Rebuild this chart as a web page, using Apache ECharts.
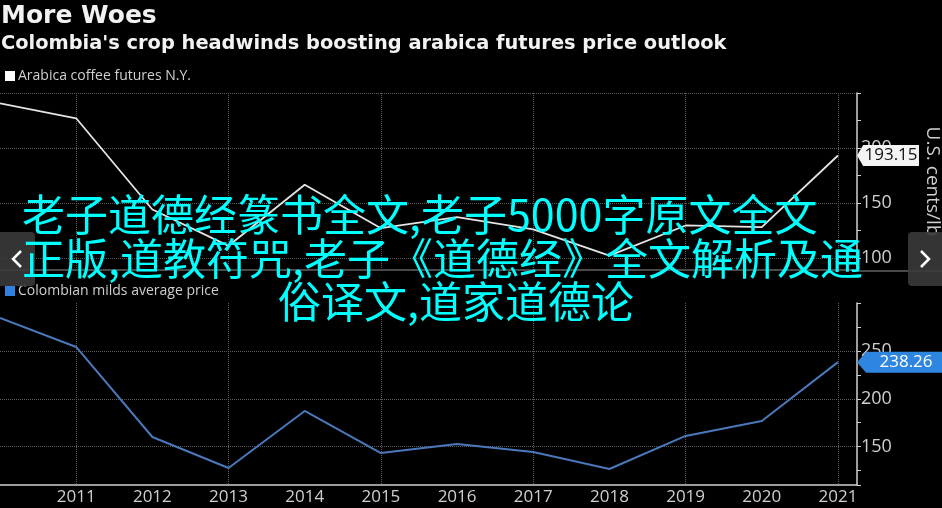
<!DOCTYPE html>
<html>
<head>
<meta charset="utf-8">
<script src="https://cdn.jsdelivr.net/npm/echarts@6/dist/echarts.min.js"></script>
<style>
html,body{margin:0;padding:0;background:#000;}
#chart{width:942px;height:508px;}
</style>
</head>
<body>
<div id="chart"></div>
<script>
// ---- data ----
const years = [2010, 2011, 2012, 2013, 2014, 2015, 2016, 2017, 2018, 2019, 2020, 2021];
const arabicaFutures = [240.5, 227, 144, 111, 166.5, 127, 137, 126, 102, 129.5, 128, 193.15];
const colombianMilds = [284.3, 254.1, 160.1, 127.8, 187.3, 143.4, 152.8, 144.5, 126.7, 161.2, 176.8, 238.26];
const xTickLabels = [2011, 2012, 2013, 2014, 2015, 2016, 2017, 2018, 2019, 2020, 2021];
const topAxisLabels = [100, 150, 200];
const bottomAxisLabels = [150, 200, 250];
const titleText = 'More Woes';
const subtitleText = "Colombia's crop headwinds boosting arabica futures price outlook";
const seriesNames = ['Arabica coffee futures N.Y.', 'Colombian milds average price'];
const unitName = 'U.S. cents/lb';
const overlayLines = ['老子道德经篆书全文,老子5000字原文全文', '正版,道教符咒,老子《道德经》全文解析及通', '俗译文,道家道德论'];

const FONT = '"Open Sans", "DejaVu Sans", sans-serif';
const xMin = 2010, xMax = 2021.25;
const gridColor = '#5a5a5a';

function pairs(vals) { return years.map((y, i) => [y, vals[i]]); }

function xAxisCfg(gridIndex, showLabels) {
  return {
    type: 'value', gridIndex, min: xMin, max: xMax, interval: 1,
    axisLine: { show: true, lineStyle: { color: showLabels ? '#cfcfcf' : '#4a4a4a', width: showLabels ? 1.5 : 2 } },
    axisTick: { show: false },
    axisLabel: {
      show: showLabels, color: '#cfcfcf', fontSize: 17, fontFamily: FONT, margin: 4,
      formatter: v => xTickLabels.indexOf(v) >= 0 ? String(v) : ''
    },
    splitLine: { show: true, lineStyle: { color: ['transparent', gridColor], type: 'dotted', width: 1 } }
  };
}

function yAxisCfg(gridIndex, min, max, split, labels, extra) {
  return Object.assign({
    type: 'value', gridIndex, position: 'right', min, max, splitNumber: split,
    axisLine: { show: true, lineStyle: { color: '#d0d0d0', width: 1.5 } },
    axisTick: { show: true, length: 4, lineStyle: { color: '#d0d0d0' } },
    minorTick: { show: true, splitNumber: 2, length: 4, lineStyle: { color: '#d0d0d0' } },
    axisLabel: {
      color: '#cfcfcf', fontSize: 18, fontFamily: FONT, margin: 4,
      formatter: v => labels.indexOf(v) >= 0 ? String(v) : ''
    },
    splitLine: { show: true, showMinLine: false, showMaxLine: true, lineStyle: { color: gridColor, type: 'dotted', width: 1 } }
  }, extra || {});
}

function tag(val, fill, textColor, w) {
  return {
    silent: true,
    symbol: 'path://M0,10 L6,0 L60,0 L60,20 L6,20 Z',
    symbolKeepAspect: false,
    data: [{
      coord: [xMax, val], value: val,
      symbolSize: [w, 21], symbolOffset: ['50%', 0],
      itemStyle: { color: fill },
      label: { show: true, position: 'inside', offset: [3, 0], color: textColor, fontSize: 17, fontFamily: FONT,
        formatter: p => Number(p.value).toFixed(2) }
    }]
  };
}

const chart = echarts.init(document.getElementById('chart'), null, { renderer: 'canvas' });
chart.setOption({
  backgroundColor: '#000',
  animation: false,
  title: [
    { text: titleText, left: 1, top: 4, padding: 0, textStyle: { color: '#f2f2f2', fontSize: 25, fontWeight: 'bold', fontFamily: '"DejaVu Sans", sans-serif' } },
    { text: subtitleText, left: 1, top: 34, padding: 0, textStyle: { color: '#f2f2f2', fontSize: 19.4, fontWeight: 'bold', fontFamily: '"DejaVu Sans", sans-serif' } }
  ],
  legend: [
    { data: [seriesNames[0]], left: 5, top: 69, padding: 0, icon: 'rect', itemWidth: 10, itemHeight: 10, itemGap: 4,
      textStyle: { color: '#cfcfcf', fontSize: 14, fontFamily: FONT, padding: [0, 0, 0, -2] } },
    { data: [seriesNames[1]], left: 5, top: 284, padding: 0, icon: 'rect', itemWidth: 10, itemHeight: 10, itemGap: 4,
      textStyle: { color: '#cfcfcf', fontSize: 14, fontFamily: FONT, padding: [0, 0, 0, -2] } }
  ],
  grid: [
    { left: 0, right: 85, top: 93, bottom: 238, containLabel: false, outerBoundsMode: 'none' },
    { left: 0, right: 85, top: 303, bottom: 23, containLabel: false, outerBoundsMode: 'none' }
  ],
  xAxis: [xAxisCfg(0, false), xAxisCfg(1, true)],
  yAxis: [
    yAxisCfg(0, 89, 250, 3, topAxisLabels, {
      name: unitName, nameLocation: 'middle', nameRotate: -90, nameGap: 66,
      nameTextStyle: { color: '#cfcfcf', fontSize: 19, fontFamily: FONT }
    }),
    yAxisCfg(1, 110, 300, 4, bottomAxisLabels, {
      splitLine: { show: true, showMinLine: false, showMaxLine: false, lineStyle: { color: gridColor, type: 'dotted', width: 1 } }
    })
  ],
  series: [
    { name: seriesNames[0], type: 'line', xAxisIndex: 0, yAxisIndex: 0, data: pairs(arabicaFutures),
      showSymbol: false, symbol: 'none', color: '#ffffff',
      lineStyle: { color: '#e4e4e4', width: 1.8 },
      markPoint: tag(arabicaFutures[arabicaFutures.length - 1], '#f4f4f4', '#111', 62), z: 3 },
    { name: seriesNames[1], type: 'line', xAxisIndex: 1, yAxisIndex: 1, data: pairs(colombianMilds),
      showSymbol: false, symbol: 'none', color: '#2f80e0',
      lineStyle: { color: '#4a78bb', width: 2 },
      markPoint: tag(colombianMilds[colombianMilds.length - 1], '#2f86e0', '#ffffff', 92), z: 3 }
  ],
  graphic: [
    { type: 'line', shape: { x1: 857, y1: 271, x2: 942, y2: 271 }, style: { stroke: '#4a4a4a', lineWidth: 2 }, z: 1 },
    { type: 'text', x: 22, y: 215, z: 50, style: { text: overlayLines[0], fill: '#00ffff', font: '43px "Noto Sans CJK SC"', textVerticalAlign: 'middle' } },
    { type: 'text', x: 22, y: 259, z: 50, style: { text: overlayLines[1], fill: '#00ffff', font: '43px "Noto Sans CJK SC"', textVerticalAlign: 'middle' } },
    { type: 'text', x: 278, y: 302, z: 50, style: { text: overlayLines[2], fill: '#00ffff', font: '43px "Noto Sans CJK SC"', textVerticalAlign: 'middle' } },
    { type: 'rect', x: 0, y: 232, z: 40, shape: { width: 35, height: 54, r: [0, 4, 4, 0] }, style: { fill: 'rgba(58,58,58,0.9)' } },
    { type: 'polyline', z: 41, shape: { points: [[21, 251], [13, 259], [21, 267]] }, style: { stroke: '#fff', lineWidth: 2.5, fill: null } },
    { type: 'rect', x: 908, y: 232, z: 40, shape: { width: 40, height: 54, r: [4, 0, 0, 4] }, style: { fill: 'rgba(58,58,58,0.9)' } },
    { type: 'polyline', z: 41, shape: { points: [[921, 251], [929, 259], [921, 267]] }, style: { stroke: '#fff', lineWidth: 2.5, fill: null } }
  ]
});
</script>
</body>
</html>
